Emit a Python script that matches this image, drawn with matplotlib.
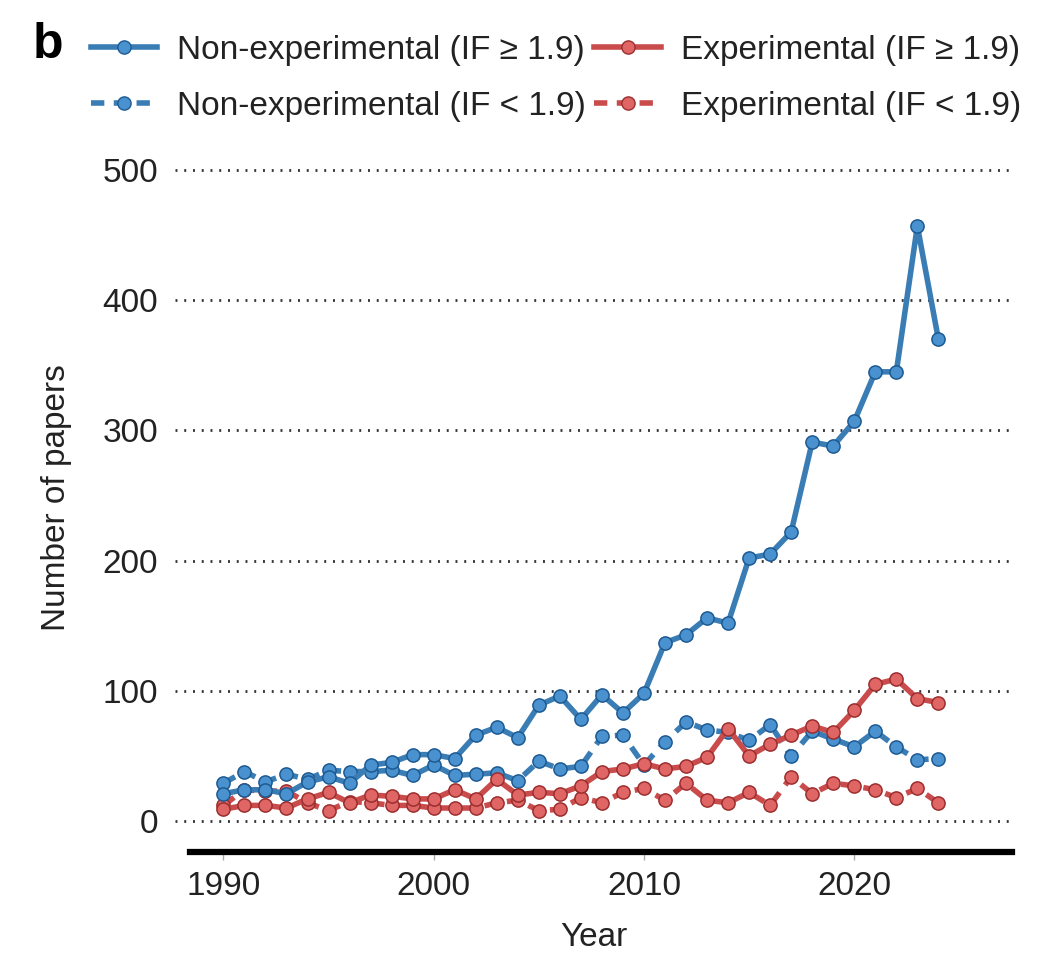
import numpy as np
import matplotlib
matplotlib.use("Agg")
import matplotlib.pyplot as plt
from matplotlib.lines import Line2D

plt.rcParams['font.family'] = ['Liberation Sans', 'DejaVu Sans']

# data
years = np.arange(1990, 2025)
nonexp_high = [21, 24, 24, 21, 30, 34, 29, 43, 45, 51, 51, 48, 66, 72, 64, 89, 96, 78, 97, 83, 98,
               137, 143, 156, 152, 202, 205, 222, 291, 288, 307, 345, 345, 457, 370]
nonexp_low = [29, 38, 30, 36, 32, 39, 38, 38, 39, 35, 43, 35, 36, 37, 31, 46, 40, 42, 65, 66, 43,
              61, 76, 70, 68, 62, 74, 50, 69, 63, 57, 69, 57, 47, 48]
exp_high = [9, 12, 12, 10, 17, 22, 14, 20, 19, 17, 17, 24, 17, 32, 20, 22, 21, 27, 38, 40, 44,
            40, 42, 49, 71, 50, 59, 66, 73, 68, 85, 105, 109, 94, 91]
exp_low = [12, 24, 23, 23, 14, 8, 15, 14, 12, 12, 10, 10, 10, 14, 16, 8, 9, 18, 14, 22, 25,
           16, 29, 16, 14, 22, 12, 34, 21, 29, 27, 24, 18, 25, 14]
labels = ['Non-experimental (IF \u2265 1.9)', 'Non-experimental (IF < 1.9)',
          'Experimental (IF \u2265 1.9)', 'Experimental (IF < 1.9)']

blue, blue_face, blue_edge = '#3a7db5', '#4a92cf', '#1d5a92'
red, red_face, red_edge = '#c94b4b', '#e06666', '#9c2e2e'
dash = (0, (2.4, 1.7))
lw, ms = 4.0, 9.5

fig = plt.figure(figsize=(10.62, 9.61), dpi=100)
ax = fig.add_axes([0.1648, 0.1134, 0.7881, 0.7368])

def draw(y, c, fc, ec, ls, z):
    ax.plot(years, y, color=c, lw=lw, ls=ls, marker='o', ms=ms,
            mfc=fc, mec=ec, mew=1.1, zorder=z)

draw(nonexp_low, blue, blue_face, blue_edge, dash, 3)
draw(exp_low, red, red_face, red_edge, dash, 3)
draw(nonexp_high, blue, blue_face, blue_edge, '-', 4)
draw(exp_high, red, red_face, red_edge, '-', 5)

ax.set_xlim(1987.7, 2027.5)
ax.set_ylim(-23.8, 520)
ax.set_yticks([0, 100, 200, 300, 400, 500])
ax.set_xticks([1990, 2000, 2010, 2020])
for v in [0, 100, 200, 300, 400, 500]:
    ax.axhline(v, color='#333333', lw=2.0, ls=(0, (0.7, 2.45)), zorder=1)

for s in ['top', 'right', 'left']:
    ax.spines[s].set_visible(False)
ax.spines['bottom'].set_linewidth(4.5)
ax.spines['bottom'].set_bounds(1988.4, 2027.5)
ax.tick_params(axis='y', length=0, pad=12, labelsize=24, colors='#222222')
ax.tick_params(axis='x', length=6, width=1, color='#aaaaaa', pad=8, labelsize=24,
               labelcolor='#222222')
ax.set_xlabel('Year', fontsize=24, color='#222222', labelpad=14)
ax.set_ylabel('Number of papers', fontsize=24, color='#222222', labelpad=22)

handles = [
    Line2D([], [], color=blue, lw=lw, marker='o', ms=ms, mfc=blue_face, mec=blue_edge),
    Line2D([], [], color=blue, lw=lw, ls=dash, marker='o', ms=ms, mfc=blue_face, mec=blue_edge),
    Line2D([], [], color=red, lw=lw, marker='o', ms=ms, mfc=red_face, mec=red_edge),
    Line2D([], [], color=red, lw=lw, ls=dash, marker='o', ms=ms, mfc=red_face, mec=red_edge),
]
fig.legend(handles, labels, ncol=2, loc='upper left', bbox_to_anchor=(0.057, 0.995),
           frameon=False, fontsize=24, handlelength=2.0, handletextpad=0.6,
           columnspacing=0.25, labelspacing=0.75, labelcolor='#222222')
fig.text(0.031, 0.953, 'b', fontsize=36, fontweight='bold', va='center', ha='left')

fig.savefig('out.png', dpi=100)
